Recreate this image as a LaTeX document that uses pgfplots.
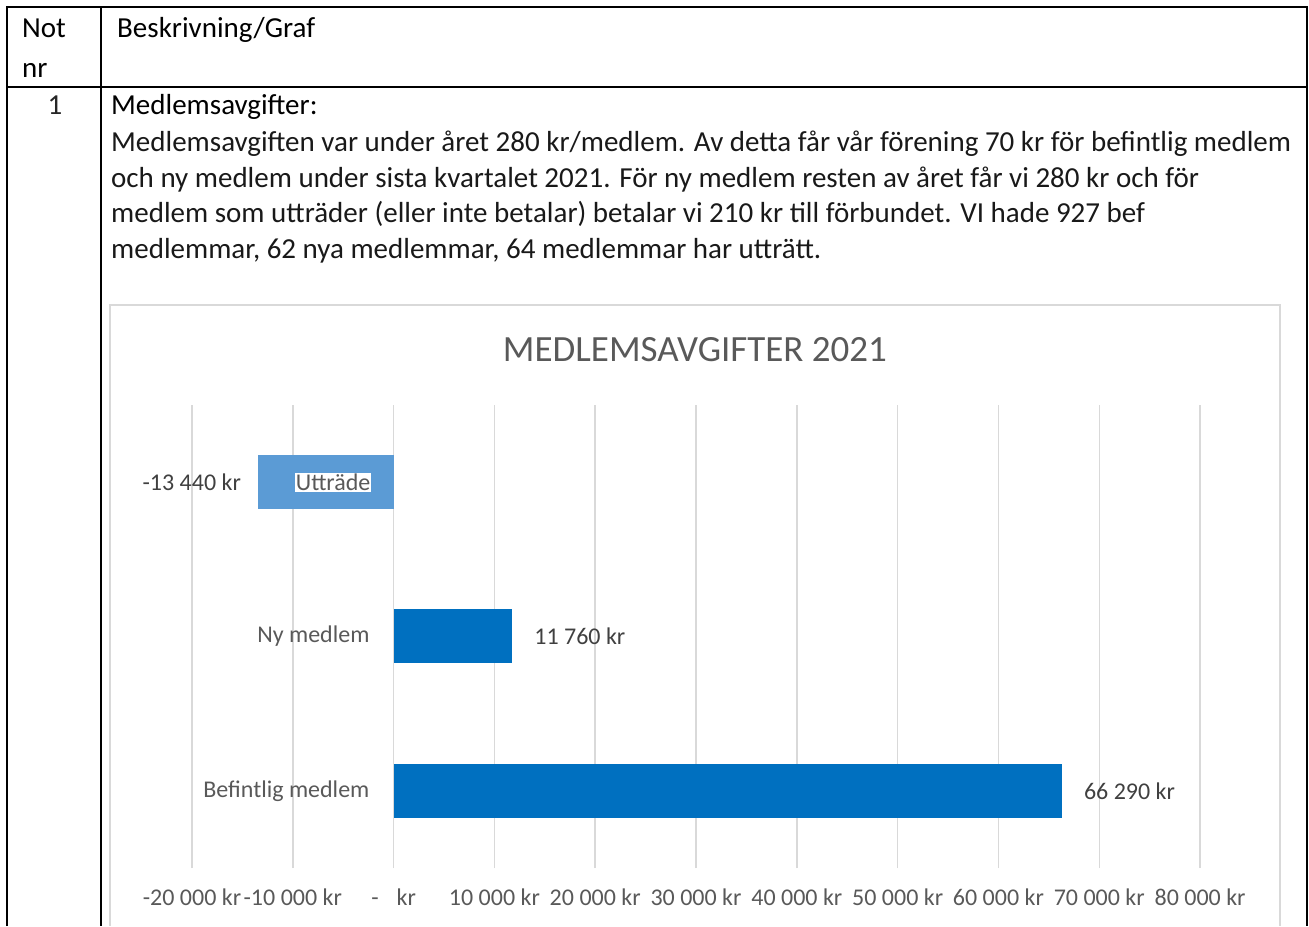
\documentclass[border=0pt]{standalone}
\usepackage{fontspec}
\setmainfont{Carlito}
\usepackage{pgfplots}
\pgfplotsset{compat=1.18}
\definecolor{lblue}{HTML}{5B9BD5}
\definecolor{dblue}{HTML}{0070C0}
\definecolor{gridc}{HTML}{D9D9D9}
\definecolor{txtg}{HTML}{595959}
\definecolor{lblg}{HTML}{404040}
\newcommand{\bodyf}{\fontsize{29bp}{35bp}\selectfont}
\newcommand{\tickf}{\fontsize{24bp}{29bp}\selectfont}
\begin{document}
\begin{tikzpicture}[x=1bp,y=1bp]
\begin{axis}[
  scale only axis, width=1008bp, height=463bp,
  xmin=-20000, xmax=80000, ymin=-0.5, ymax=2.5,
  xbar, bar width=54bp, bar shift=0pt,
  clip=false,
  scaled x ticks=false,
  xtick={-20000,-10000,0,10000,20000,30000,40000,50000,60000,70000,80000},
  xticklabels={-20 000 kr,-10 000 kr,{-\hspace{18bp}kr},10 000 kr,20 000 kr,30 000 kr,40 000 kr,50 000 kr,60 000 kr,70 000 kr,80 000 kr},
  ytick=\empty,
  xmajorgrids, major grid style={draw=gridc,line width=1.5bp},
  axis line style={draw=none},
  major tick length=0pt,
  xticklabel style={font=\tickf,text=txtg,yshift=-17bp},
  point meta=explicit symbolic,
  nodes near coords,
  every node near coord/.append style={font=\tickf,text=lblg,inner sep=0pt},
]
\addplot[fill=dblue,draw=none,nodes near coords style={anchor=west,xshift=22bp}] coordinates {(66290,0) [66 290 kr]};
\addplot[fill=dblue,draw=none,nodes near coords style={anchor=west,xshift=22bp}] coordinates {(11760,1) [11 760 kr]};
\addplot[fill=lblue,draw=none,nodes near coords style={anchor=east,xshift=-17bp}] coordinates {(-13440,2) [-13 440 kr]};
\node[anchor=east,inner sep=0,font=\tickf,text=txtg,xshift=-24bp] at (axis cs:0,0) {Befintlig medlem};
\node[anchor=east,inner sep=0,font=\tickf,text=txtg,xshift=-24bp] at (axis cs:0,1) {Ny medlem};
\node[anchor=east,inner sep=1bp,fill=white,font=\tickf,text=txtg,xshift=-22bp] at (axis cs:0,2) {Utträde};
\coordinate (O) at (axis description cs:0,0);
\end{axis}
\begin{scope}[shift={(O)},shift={(-192,-58)}]
% table
\draw[line width=2.2bp,black] (7,0) -- (7,919) -- (1307,919) -- (1307,0);
\draw[line width=2.2bp,black] (101,919) -- (101,0);
\draw[line width=2.2bp,black] (7,839) -- (1307,839);
% texts
\node[anchor=base west,inner sep=0,font=\bodyf] at (22,888) {Not};
\node[anchor=base west,inner sep=0,font=\bodyf] at (22,848) {nr};
\node[anchor=base west,inner sep=0,font=\bodyf] at (117,888) {Beskrivning/Graf};
\node[anchor=base,inner sep=0,font=\bodyf,text=black!85] at (55,811) {1};
\node[anchor=base west,inner sep=0,font=\bodyf] at (111,811) {Medlemsavgifter:};
\node[anchor=base west,inner sep=0,font=\bodyf,text=black!90] at (111,774) {Medlemsavgiften var under året 280 kr/medlem. Av detta får vår förening 70 kr för befintlig medlem};
\node[anchor=base west,inner sep=0,font=\bodyf,text=black!90] at (111,738) {och ny medlem under sista kvartalet 2021. För ny medlem resten av året får vi 280 kr och för};
\node[anchor=base west,inner sep=0,font=\bodyf,text=black!90] at (111,703) {medlem som utträder (eller inte betalar) betalar vi 210 kr till förbundet. VI hade 927 bef};
\node[anchor=base west,inner sep=0,font=\bodyf,text=black!90] at (111,667) {medlemmar, 62 nya medlemmar, 64 medlemmar har utträtt.};
% chart area border
\draw[gridc,line width=1.5bp] (110,0) -- (110,621) -- (1280,621) -- (1280,0);
% chart title
\node[anchor=base,inner sep=0,font=\fontsize{37bp}{44bp}\selectfont,text=txtg] at (695,564) {MEDLEMSAVGIFTER 2021};
\pgfresetboundingbox
\useasboundingbox (0,0) rectangle (1309,926);
\end{scope}
\end{tikzpicture}
\end{document}
